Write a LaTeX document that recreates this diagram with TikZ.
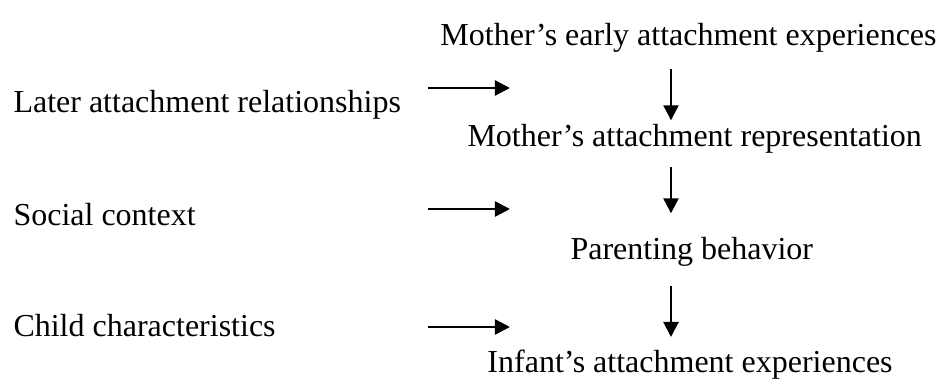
\documentclass[tikz,border=0pt]{standalone}
\usepackage{fontspec}
\setmainfont{Liberation Serif}
\usetikzlibrary{arrows.meta,positioning}
\tikzset{
  >={Triangle[length=6pt,width=6pt]},
  lbl/.style={inner sep=0pt, font=\fontsize{12.8}{15}\selectfont},
  flow/.style={->, line width=0.9pt},
}

\begin{document}
\begin{tikzpicture}[x=0.4pt,y=-0.4pt]
  \useasboundingbox (0,0) rectangle (943,380);

  % main chain
  \node[lbl, anchor=base west] (early) at (440,45) {Mother's early attachment experiences};
  \node[lbl, anchor=base west] (rep) at (467,146) {Mother's attachment representation};
  \node[lbl, anchor=base west] (parent) at (570,260) {Parenting behavior};
  \node[lbl, anchor=base west] (infant) at (487,373) {Infant's attachment experiences};

  % influences on the left
  \node[lbl, anchor=base west] (later) at (13,112) {Later attachment relationships};
  \node[lbl, anchor=base west] (social) at (13,225) {Social context};
  \node[lbl, anchor=base west] (child) at (13,337) {Child characteristics};

  \coordinate (col) at (671,0);
  \coordinate (in1) at (428,88);   \coordinate (tip1) at (510,88);
  \coordinate (in2) at (428,209);  \coordinate (tip2) at (510,209);
  \coordinate (in3) at (428,327);  \coordinate (tip3) at (510,327);

  \draw[flow, shorten <=6.8pt, shorten >=1.2pt] (early.south -| col) -- (rep.north -| col);
  \draw[flow, shorten <=5.6pt, shorten >=9.6pt] (rep.south -| col) -- (parent.north -| col);
  \draw[flow, shorten <=7.6pt, shorten >=5.2pt] (parent.south -| col) -- (infant.north -| col);

  \draw[flow] (in1) -- (tip1);
  \draw[flow] (in2) -- (tip2);
  \draw[flow] (in3) -- (tip3);
\end{tikzpicture}
\end{document}
